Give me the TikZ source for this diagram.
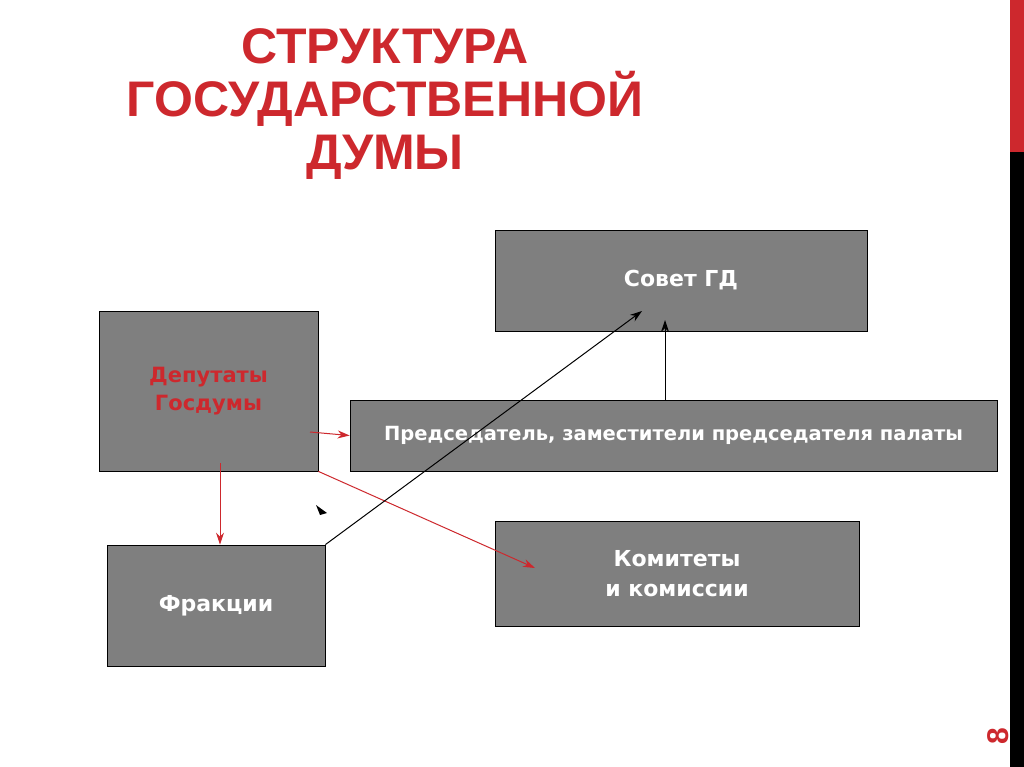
\documentclass[tikz,border=0pt]{standalone}
\usepackage{fontspec}
\setmainfont{Liberation Sans}
\newfontfamily\tah{DejaVu Sans}
\usetikzlibrary{arrows.meta}
\definecolor{tred}{RGB}{205,40,45}
\definecolor{boxg}{RGB}{127,127,127}
\begin{document}
\begin{tikzpicture}[x=1pt,y=-1pt,
  gbox/.style={draw=black,fill=boxg,line width=0.8pt,inner sep=0pt,align=center,font=\tah\bfseries\fontsize{22}{30}\selectfont,text=white},
  rarr/.style={draw=tred,line width=1pt,-{Stealth[length=12pt,width=8pt]}},
  barr/.style={draw=black,line width=1pt,-{Stealth[length=12pt,width=8pt]}}]
\useasboundingbox (0,0) rectangle (1024,767);
\fill[white] (0,0) rectangle (1024,767);
\fill[tred] (1010,0) rectangle (1024,152);
\fill[black] (1010,152) rectangle (1024,767);
\node[text=tred,font=\bfseries\fontsize{30}{30}\selectfont,rotate=90] (pg) at (998,736) {8};
\node[text=tred,font=\bfseries\fontsize{50}{53}\selectfont,align=center] (title) at (385,104) {СТРУКТУРА\\ГОСУДАРСТВЕННОЙ\\ДУМЫ};
\node[gbox,minimum width=372,minimum height=101] (sov) at (681,280.5) {Совет ГД};
\node[gbox,minimum width=219,minimum height=160,text=tred,font=\tah\bfseries\fontsize{21}{28}\selectfont] (dep) at (208.5,391) {Депутаты\\Госдумы};
\node[gbox,minimum width=647,minimum height=71,font=\tah\bfseries\fontsize{19.5}{23}\selectfont] (pred) at (673.5,435.5) {Председатель, заместители председателя палаты};
\node[gbox,minimum width=218,minimum height=121] (fr) at (216,605.5) {Фракции};
\node[gbox,minimum width=364,minimum height=105] (kom) at (677,573.5) {Комитеты\\и комиссии};
\coordinate (a1) at (310,432);
\draw[rarr] (a1) -- (pred.west);
\coordinate (a2) at (220,463);
\draw[rarr] (a2) -- (fr.north -| a2);
\draw[rarr] (dep.south east) -- (535,568);
\draw[barr] (fr.north east) -- (642,311);
\draw[barr] (pred.north -| 665,0) -- (665,320);
\fill[black] (316,505) -- (327,513) -- (320,515) -- cycle;
\end{tikzpicture}
\end{document}
